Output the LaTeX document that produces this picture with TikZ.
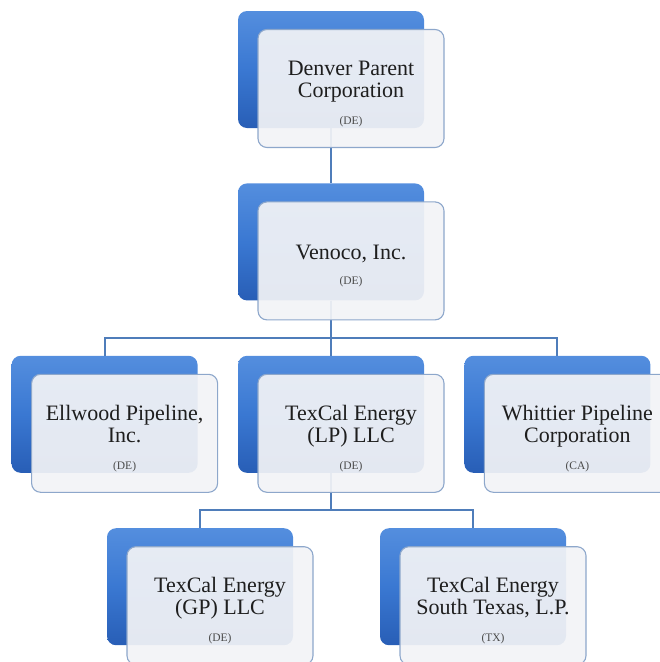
\documentclass[tikz,border=0pt]{standalone}
\usepackage{fontspec}
\setmainfont{Liberation Serif}
\usepackage{tikz}
\usepackage{xcolor}
\usetikzlibrary{positioning}
\definecolor{orgblue}{RGB}{58,120,210}
\definecolor{orgdark}{RGB}{40,94,182}
\definecolor{orglight}{RGB}{84,142,222}
\definecolor{cardfill}{RGB}{242,243,246}
\definecolor{cardline}{RGB}{141,167,203}
\definecolor{linkblue}{RGB}{79,125,186}
\definecolor{inkgray}{RGB}{30,30,30}
\newcommand{\juris}[1]{{\fontsize{11.5}{11.5}\selectfont\color{inkgray!80}(#1)}}
\newcommand{\lift}{\rule{0pt}{25pt}}

\begin{document}
\begin{tikzpicture}[
    x=1pt,y=1pt,
    node distance=55pt and 40pt,
    back/.style={rounded corners=9pt,minimum width=186pt,minimum height=117pt,
      top color=orglight,bottom color=orgdark,middle color=orgblue},
    card/.style={draw=cardline,line width=1.1pt,rounded corners=9pt,
      fill=cardfill,fill opacity=0.93,text opacity=1,
      minimum width=186pt,minimum height=118pt,align=center,text=inkgray,
      font=\fontsize{22}{22.5}\selectfont},
    link/.style={draw=linkblue,line width=2pt}
  ]
    \useasboundingbox (0,0) rectangle (660,-662);
    \clip (0,0) rectangle (660,-662);

    % back plates
    \node[back] (denver) at (331,-69.5) {};
    \node[back,below=of denver] (venoco) {};
    \node[back,below=of venoco] (texlp) {};
    \node[back,left=of texlp] (ellwood) {};
    \node[back,right=of texlp] (whittier) {};
    \node[back,below=of texlp,xshift=-131pt] (texgp) {};
    \node[back,below=of texlp,xshift=142pt] (texst) {};

    % connectors
    \coordinate (busA) at ([yshift=-37pt]venoco.south);
    \coordinate (busB) at ([yshift=-37pt]texlp.south);
    \draw[link] (denver.south) -- (venoco.north);
    \draw[link] (venoco.south) -- (busA);
    \draw[link] (busA) -| (ellwood.north);
    \draw[link] (busA) -| (whittier.north);
    \draw[link] (busA) -- (texlp.north);
    \draw[link] (texlp.south) -- (busB);
    \draw[link] (busB) -| (texgp.north);
    \draw[link] (busB) -| (texst.north);

    % front cards
    \node[card] (denverC) at ([shift={(20pt,-19pt)}]denver.center)
      {\lift Denver Parent\\Corporation\\[4pt]\juris{DE}};
    \node[card] (venocoC) at ([shift={(20pt,-19pt)}]venoco.center)
      {\lift Venoco, Inc.\\[2pt]\juris{DE}};
    \node[card] (ellwoodC) at ([shift={(20pt,-19pt)}]ellwood.center)
      {\lift Ellwood Pipeline,\\Inc.\\[4pt]\juris{DE}};
    \node[card] (texlpC) at ([shift={(20pt,-19pt)}]texlp.center)
      {\lift TexCal Energy\\(LP) LLC\\[4pt]\juris{DE}};
    \node[card] (whittierC) at ([shift={(20pt,-19pt)}]whittier.center)
      {\lift Whittier Pipeline\\Corporation\\[4pt]\juris{CA}};
    \node[card] (texgpC) at ([shift={(20pt,-19pt)}]texgp.center)
      {\lift TexCal Energy\\(GP) LLC\\[4pt]\juris{DE}};
    \node[card] (texstC) at ([shift={(20pt,-19pt)}]texst.center)
      {\lift TexCal Energy\\South Texas, L.P.\\[4pt]\juris{TX}};
  \end{tikzpicture}
\end{document}
